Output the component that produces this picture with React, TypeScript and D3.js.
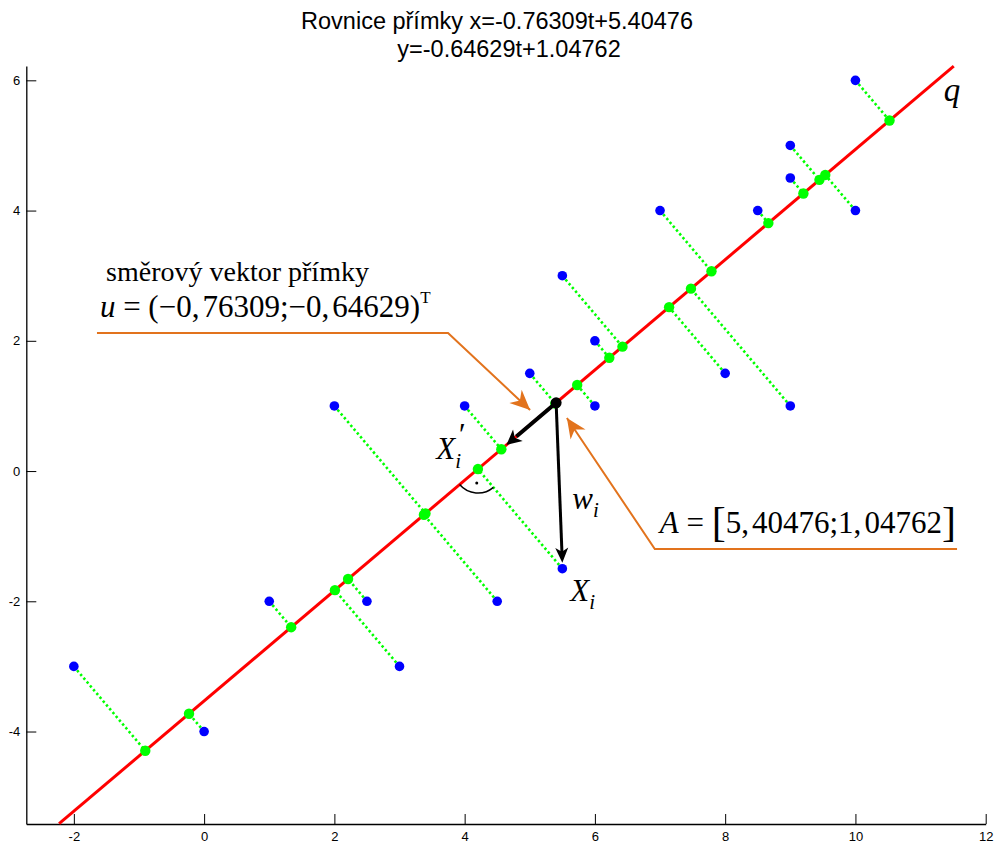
import React, { useRef, useEffect } from "react";
import * as d3 from "d3";

// data points X_i
const xPts = [-2, 0, 1, 2.5, 3, 2, 4.5, 4, 5.5, 5, 5.5, 6, 6, 8, 7, 8.5, 9, 9, 9, 10, 10];
const yPts = [-3, -4, -2, -2, -3, 1, -2, 1, -1.5, 1.5, 3, 2, 1, 1.5, 4, 4, 1, 5, 4.5, 4, 6];

// line parameters (from title)
const pointA = [5.40476, 1.04762];
const dirU = [-0.76309, -0.64629];
const tRange = [-8, 10];

// axis setup
const xDomain = [-2.73, 12];
const yDomain = [-5.42, 6.22];
const xTicks = [-2, 0, 2, 4, 6, 8, 10, 12];
const yTicks = [-4, -2, 0, 2, 4, 6];

// highlighted point (X_i) and its neighbour labelled X_i'
const hiIdx = 8;
const primeIdx = 7;

// callouts (data coords)
const calloutU = [[-1.645, 2.12], [3.745, 2.12], [5.005, 0.937]];
const calloutA = [[11.56, -1.197], [6.92, -1.197], [5.57, 0.815]];

const W = 995;
const H = 847;
const orange = "#e2731d";
const serif = "'Liberation Serif', 'Times New Roman', serif";
const sans = "'Liberation Sans', Arial, sans-serif";

const x = d3.scaleLinear().domain(xDomain).range([26.3, 985.7]);
const y = d3.scaleLinear().domain(yDomain).range([824, 66]);

const project = (px: number, py: number) => {
  const t = (px - pointA[0]) * dirU[0] + (py - pointA[1]) * dirU[1];
  return [pointA[0] + t * dirU[0], pointA[1] + t * dirU[1]];
};

// arrowhead polygon with notch, in pixel coords
const arrowHead = (x1: number, y1: number, x2: number, y2: number, L: number, hw: number, notch: number) => {
  const len = Math.hypot(x2 - x1, y2 - y1);
  const dx = (x2 - x1) / len;
  const dy = (y2 - y1) / len;
  const nx = -dy;
  const ny = dx;
  const bx = x2 - L * dx;
  const by = y2 - L * dy;
  const pts = [
    [x2, y2],
    [bx + hw * nx, by + hw * ny],
    [x2 - (L - notch) * dx, y2 - (L - notch) * dy],
    [bx - hw * nx, by - hw * ny],
  ];
  return "M" + pts.map((p) => p.join(",")).join("L") + "Z";
};

const App = () => {
  const axRef = useRef<SVGGElement | null>(null);

  useEffect(() => {
    if (!axRef.current) return;
    const g = d3.select(axRef.current);
    g.selectAll("*").remove();

    const fmt = (d: any) => String(d);
    const xAxis = g
      .append("g")
      .attr("transform", "translate(0," + y.range()[0] + ")")
      .call(d3.axisBottom(x).tickValues(xTicks).tickSizeInner(-10).tickSizeOuter(0).tickPadding(8).tickFormat(fmt));
    const yAxis = g
      .append("g")
      .attr("transform", "translate(" + x.range()[0] + ",0)")
      .call(d3.axisLeft(y).tickValues(yTicks).tickSizeInner(-10).tickSizeOuter(0).tickPadding(6).tickFormat(fmt));
    [xAxis, yAxis].forEach((a) => {
      a.selectAll("path").attr("stroke", "#000").attr("stroke-width", 1.3);
      a.selectAll("line").attr("stroke", "#000");
      a.selectAll("text")
        .attr("fill", "#000")
        .style("font-family", sans)
        .style("font-size", "13px");
    });
  }, []);

  const proj = xPts.map((px, i) => project(px, yPts[i]));
  const lineStart = [pointA[0] + tRange[0] * dirU[0], pointA[1] + tRange[0] * dirU[1]];
  const lineEnd = [pointA[0] + tRange[1] * dirU[0], pointA[1] + tRange[1] * dirU[1]];

  // black arrows
  const ax = x(pointA[0]);
  const ay = y(pointA[1]);
  const ux = x(pointA[0] + dirU[0]);
  const uy = y(pointA[1] + dirU[1]);
  const hx = x(xPts[hiIdx]);
  const hy0 = y(yPts[hiIdx]);
  const hy = hy0 - 6;

  // right angle mark at projection of X_i
  const pc = proj[hiIdx];
  const cx = x(pc[0]);
  const cy = y(pc[1]);
  const a0 = Math.atan2(-dirU[1], dirU[0]); // down-left along line (screen)
  const a1 = a0 - Math.PI / 2;
  const rArc = 24;
  const arcPath =
    "M" + (cx + rArc * Math.cos(a1)) + "," + (cy + rArc * Math.sin(a1)) +
    " A" + rArc + "," + rArc + " 0 0 1 " + (cx + rArc * Math.cos(a0)) + "," + (cy + rArc * Math.sin(a0));
  const am = (a0 + a1) / 2;

  const calloutPath = (pts: number[][]) => pts.map((p, i) => (i ? "L" : "M") + x(p[0]) + "," + y(p[1])).join("");
  const arrowFor = (pts: number[][]) => {
    const p1 = pts[pts.length - 2];
    const p2 = pts[pts.length - 1];
    return arrowHead(x(p1[0]), y(p1[1]), x(p2[0]), y(p2[1]), 20, 9, 6);
  };

  const pr = proj[primeIdx];

  return (
    <svg width={W} height={H} style={{ position: "absolute", left: 0, top: 0, background: "#fff" }}>
      <rect width={W} height={H} fill="#fff" />
      {/* title */}
      <text x={497} y={29} textAnchor="middle" fontFamily={sans} fontSize={23.5}>
        Rovnice přímky x=-0.76309t+5.40476
      </text>
      <text x={509} y={57} textAnchor="middle" fontFamily={sans} fontSize={23.5}>
        y=-0.64629t+1.04762
      </text>

      <g ref={axRef} />

      {/* dotted projections */}
      {xPts.map((px, i) => (
        <line
          key={"d" + i}
          x1={x(px)}
          y1={y(yPts[i])}
          x2={x(proj[i][0])}
          y2={y(proj[i][1])}
          stroke="#00ff00"
          strokeWidth={2.6}
          strokeDasharray="2.4 2.6"
        />
      ))}

      {/* fitted line */}
      <line
        x1={x(lineStart[0])}
        y1={y(lineStart[1])}
        x2={x(lineEnd[0])}
        y2={y(lineEnd[1])}
        stroke="#ff0000"
        strokeWidth={3}
      />

      {xPts.map((px, i) => (
        <circle key={"b" + i} cx={x(px)} cy={y(yPts[i])} r={4.8} fill="#0000ff" />
      ))}
      {proj.map((p, i) => (
        <circle key={"g" + i} cx={x(p[0])} cy={y(p[1])} r={5.2} fill="#00ff00" />
      ))}

      {/* callouts */}
      <path d={calloutPath(calloutU)} fill="none" stroke={orange} strokeWidth={2} />
      <path d={arrowFor(calloutU)} fill={orange} />
      <path d={calloutPath(calloutA)} fill="none" stroke={orange} strokeWidth={2} />
      <path d={arrowFor(calloutA)} fill={orange} />

      {/* direction vector arrow */}
      <line x1={ax} y1={ay} x2={ux + (ax - ux) * 0.2} y2={uy + (ay - uy) * 0.2} stroke="#000" strokeWidth={4} />
      <path d={arrowHead(ax, ay, ux, uy, 15, 7.5, 4)} fill="#000" />
      {/* w_i arrow */}
      <line x1={ax} y1={ay} x2={hx + (ax - hx) * 0.05} y2={hy + (ay - hy) * 0.05} stroke="#000" strokeWidth={3} />
      <path d={arrowHead(ax, ay, hx, hy, 15, 6.5, 4)} fill="#000" />
      <circle cx={ax} cy={ay} r={5.5} fill="#000" />

      {/* right angle */}
      <path d={arcPath} fill="none" stroke="#000" strokeWidth={1.5} />
      <circle cx={cx + 14 * Math.cos(am)} cy={cy + 14 * Math.sin(am)} r={1.5} fill="#000" />

      {/* labels */}
      <g fontFamily={serif} fill="#000">
        <text x={x(-1.505)} y={y(2.918)} fontSize={28}>
          směrový vektor přímky
        </text>
        <text x={x(-1.6)} y={y(2.366)} fontSize={31}>
          <tspan fontStyle="italic">u</tspan>
          <tspan> = (−0,</tspan>
          <tspan dx={3}>76309;−0,</tspan>
          <tspan dx={3}>64629)</tspan>
          <tspan fontSize={17} dy={-14}>T</tspan>
        </text>
        <text x={x(6.997)} y={y(-0.951)} fontSize={31}>
          <tspan fontStyle="italic">A</tspan>
          <tspan> = </tspan>
          <tspan fontSize={42} dy={3}>[</tspan>
          <tspan dy={-3}>5,</tspan>
          <tspan dx={3}>40476;1,</tspan>
          <tspan dx={3}>04762</tspan>
          <tspan fontSize={42} dy={3}>]</tspan>
        </text>
        <text x={x(pr[0]) - 65} y={y(pr[1]) + 10} fontSize={31} fontStyle="italic">
          <tspan>X</tspan>
          <tspan fontSize={21} dy={9}>i</tspan>
          <tspan dx={-4} dy={-23}>′</tspan>
        </text>
        <text x={hx + 10} y={hy0 - 60} fontSize={31} fontStyle="italic">
          <tspan>w</tspan>
          <tspan fontSize={21} dy={8}>i</tspan>
        </text>
        <text x={hx + 8} y={hy0 + 32} fontSize={31} fontStyle="italic">
          <tspan>X</tspan>
          <tspan fontSize={21} dy={8}>i</tspan>
        </text>
        <text x={x(lineStart[0]) - 10} y={y(lineStart[1]) + 35} fontSize={33} fontStyle="italic">
          q
        </text>
      </g>
    </svg>
  );
};

export default App;
